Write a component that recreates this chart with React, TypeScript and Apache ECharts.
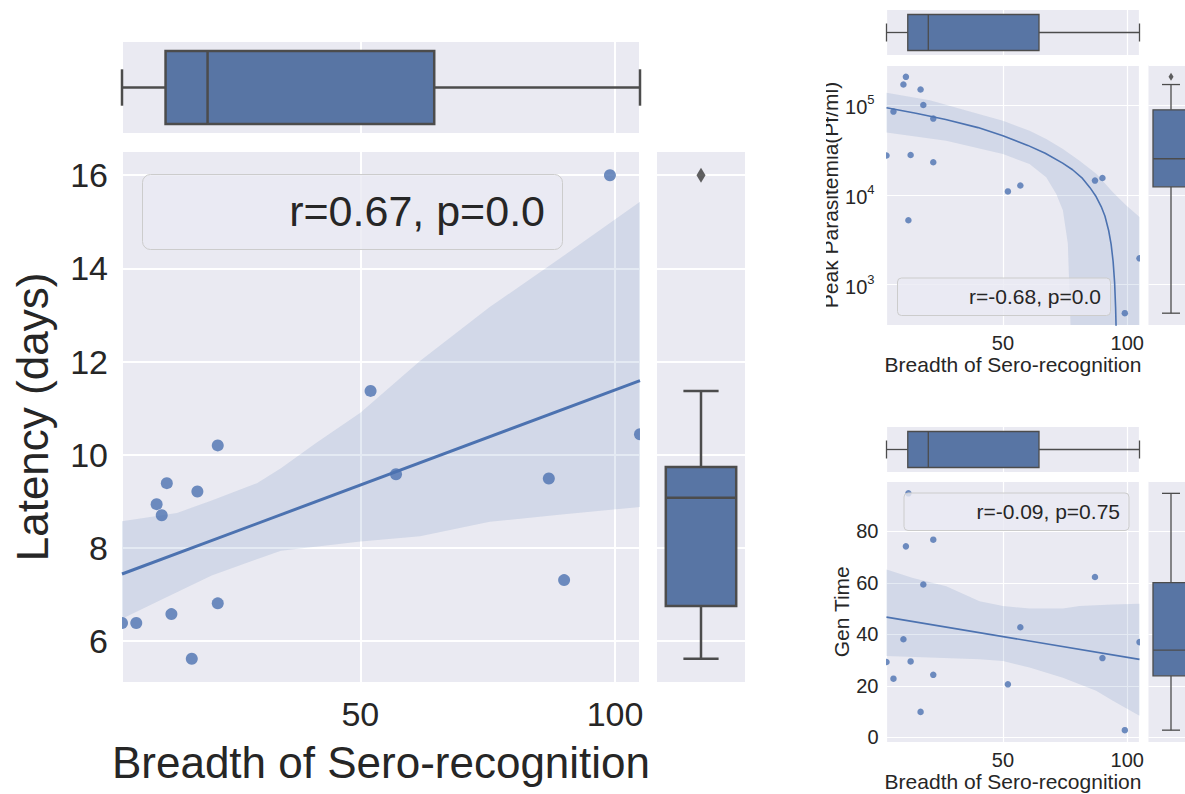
import React, { useEffect, useRef } from "react";
import * as echarts from "echarts";

// ---------- data ----------
const breadth = [3.2, 6.0, 10.0, 11.0, 12.0, 12.9, 16.9, 18.0, 22.0, 22.0, 52.0, 57.0, 87.0, 90.0, 99.0, 104.9];
const latency = [6.39, 6.39, 8.94, 8.7, 9.39, 6.58, 5.62, 9.21, 10.2, 6.81, 11.37, 9.58, 9.49, 7.31, 16.0, 10.44];
const parasitemia = [27400, 84500, 169000, 206000, 5200, 27700, 149000, 100000, 70600, 23000, 10900, 12700, 14400, 15400, 480, 1960];
const genTime = [29.3, 22.8, 38.1, 74.2, 94.8, 29.5, 9.9, 59.4, 76.8, 24.3, 20.6, 42.8, 62.3, 30.8, 2.8, 37.0];

// regression lines and confidence bands
const latencyFit = [[3.2, 7.44], [104.9, 11.59]];
const latencyBandUpper = [[3.2, 8.57], [14, 8.75], [20.8, 9.02], [29.7, 9.39], [34.4, 9.71], [41.3, 10.25], [50, 10.9], [61.7, 12.01], [75.4, 13.17], [89, 14.2], [104.9, 15.43]];
const latencyBandLower = [[3.2, 6.48], [10.6, 6.87], [20.8, 7.41], [34.4, 7.94], [50, 8.14], [61.7, 8.25], [75.4, 8.56], [89, 8.71], [104.9, 8.88]];

const parasitemiaFit = [[3.2, 93000], [15, 81000], [27, 69000], [40, 56000], [50, 45500], [60, 35500], [67, 29000], [74, 22500], [78, 19000], [82, 15200], [85, 12000], [87.5, 9500], [89.5, 7400], [91, 5800], [92.5, 4000], [93.5, 2800], [94.3, 1800], [94.9, 1050], [95.3, 550], [95.6, 250]];
const parasitemiaBandUpper = [[3.2, 137000], [20.6, 112700], [40.6, 78900], [50, 66600], [60.7, 51500], [67.4, 41700], [74.1, 32300], [80.8, 24000], [87.5, 17100], [94.2, 10700], [99.6, 7620], [104.9, 5660]];
// last two points lie below the visible axis range
const parasitemiaBandLower = [[3.2, 49400], [27.2, 39900], [50, 28400], [60.7, 22000], [67.4, 15700], [71.4, 10300], [74.1, 6710], [76.1, 2870], [77.2, 340], [77.6, 100], [104.9, 100]];

const genTimeFit = [[3.2, 46.7], [104.9, 30.3]];
const genTimeBandUpper = [[3.2, 65.2], [13.8, 61.9], [27.2, 58.7], [40.6, 52.9], [50, 51.0], [60.7, 50.1], [74.1, 50.1], [80.8, 51.0], [94.2, 51.6], [104.9, 51.9]];
const genTimeBandLower = [[3.2, 31.6], [20.6, 31.0], [40.6, 30.3], [50, 29.7], [60.7, 27.1], [74.1, 23.2], [87.5, 18.1], [94.2, 14.2], [104.9, 8.4]];

const legendTexts = ["r=0.67, p=0.0", "r=-0.68, p=0.0", "r=-0.09, p=0.75"];
const xTitle = "Breadth of Sero-recognition";
const yTitles = ["Latency (days)", "Peak Parasitemia(Pf/ml)", "Gen Time"];

// ---------- styles ----------
const FONT = "'Liberation Sans', Arial, Helvetica, sans-serif";
const TEXT = "#262626";
const BG = "#eaeaf2";
const LINE = "#4c72b0";
const POINT = "rgba(76,114,176,0.8)";
const BAND = "rgba(76,114,176,0.15)";
const BOX = "#5875a4";
const GREY = "#4c4c4c";

// ---------- helpers ----------
function quantile(s: number[], q: number) {
  const pos = (s.length - 1) * q;
  const lo = Math.floor(pos);
  const hi = Math.ceil(pos);
  return s[lo] + (s[hi] - s[lo]) * (pos - lo);
}
function boxStats(values: number[]) {
  const s = [...values].sort((a, b) => a - b);
  const q1 = quantile(s, 0.25);
  const med = quantile(s, 0.5);
  const q3 = quantile(s, 0.75);
  const iqr = q3 - q1;
  const inside = s.filter((v) => v >= q1 - 1.5 * iqr && v <= q3 + 1.5 * iqr);
  const outliers = s.filter((v) => v < q1 - 1.5 * iqr || v > q3 + 1.5 * iqr);
  return { stats: [inside[0], q1, med, q3, inside[inside.length - 1]], outliers };
}
function padRange(arr: number[]) {
  const lo = Math.min(...arr);
  const hi = Math.max(...arr);
  const m = (hi - lo) * 0.05;
  return [lo - m, hi + m];
}
function logPadRange(arr: number[]) {
  const lo = Math.log10(Math.min(...arr));
  const hi = Math.log10(Math.max(...arr));
  const m = (hi - lo) * 0.05;
  return [Math.pow(10, lo - m), Math.pow(10, hi + m)];
}

function bandRender(upper: number[][], lower: number[][]) {
  return (params: any, api: any) => {
    const cs = params.coordSys;
    const clampY = (p: number[]) => [p[0], Math.max(cs.y - 2, Math.min(cs.y + cs.height + 2, p[1]))];
    const pts = [
      ...upper.map((p) => clampY(api.coord(p))),
      ...[...lower].reverse().map((p) => clampY(api.coord(p))),
    ];
    return { type: "polygon", shape: { points: pts }, style: { fill: BAND }, silent: true };
  };
}

function dotRender(size: number) {
  return (params: any, api: any) => {
    const c = api.coord([api.value(0), api.value(1)]);
    return { type: "circle", shape: { cx: c[0], cy: c[1], r: size / 2 }, style: { fill: POINT } };
  };
}

function boxRender(horizontal: boolean, lw: number) {
  return (params: any, api: any) => {
    const lo = api.value(0), q1 = api.value(1), med = api.value(2), q3 = api.value(3), hi = api.value(4);
    const P = (v: number, c: number) => (horizontal ? api.coord([v, c]) : api.coord([c, v]));
    const a = P(q1, 0.1);
    const b = P(q3, 0.9);
    const seg = (p1: number[], p2: number[]) => ({
      type: "line",
      shape: { x1: p1[0], y1: p1[1], x2: p2[0], y2: p2[1] },
      style: { stroke: GREY, lineWidth: lw, fill: null },
    });
    return {
      type: "group",
      children: [
        seg(P(lo, 0.5), P(q1, 0.5)),
        seg(P(q3, 0.5), P(hi, 0.5)),
        seg(P(lo, 0.3), P(lo, 0.7)),
        seg(P(hi, 0.3), P(hi, 0.7)),
        {
          type: "rect",
          shape: { x: Math.min(a[0], b[0]), y: Math.min(a[1], b[1]), width: Math.abs(b[0] - a[0]), height: Math.abs(b[1] - a[1]) },
          style: { fill: BOX, stroke: GREY, lineWidth: lw },
        },
        seg(P(med, 0.1), P(med, 0.9)),
      ],
    };
  };
}

const noLine = { axisLine: { show: false }, axisTick: { show: false } };

function buildOption() {
  const xRange = [Math.min(...breadth), Math.max(...breadth)];
  const latRange = padRange(latency);
  const parRange = logPadRange(parasitemia);
  const genRange = padRange(genTime);

  const splitMain = { show: true, lineStyle: { color: "#ffffff", width: 2 } };
  const splitSmall = { show: true, lineStyle: { color: "#ffffff", width: 1.2 } };
  const labMain = { fontSize: 34, color: TEXT, fontFamily: FONT, margin: 14, showMinLabel: false, showMaxLabel: false };
  const labSmall = { fontSize: 20, color: TEXT, fontFamily: FONT, margin: 8, showMinLabel: false, showMaxLabel: false };
  const nameMain = { fontSize: 44, color: TEXT, fontFamily: FONT };
  const nameSmall = { fontSize: 21, color: TEXT, fontFamily: FONT };

  const gridBase = { show: true, backgroundColor: BG, borderWidth: 0, containLabel: false, outerBoundsMode: "none" };
  const grid = [
    { left: 122, top: 151, width: 518, height: 532 },
    { left: 122, top: 42, width: 518, height: 91 },
    { left: 657, top: 151, width: 88, height: 532 },
    { left: 886.5, top: 65, width: 253, height: 260 },
    { left: 886.5, top: 10, width: 253, height: 45 },
    { left: 1148.5, top: 65, width: 45, height: 260 },
    { left: 886.5, top: 481.5, width: 253, height: 260.5 },
    { left: 886.5, top: 427, width: 253, height: 45 },
    { left: 1148.5, top: 481.5, width: 45, height: 260.5 },
  ].map((g) => ({ ...gridBase, ...g }));

  const unitAxis = (gridIndex: number) => ({ type: "value", gridIndex, min: 0, max: 1, show: false, splitLine: { show: false } });
  const breadthAxis = (gridIndex: number, split: any, label: any, name?: string, nameStyle?: any, gap?: number) => ({
    type: "value", gridIndex, min: xRange[0], max: xRange[1], splitNumber: 2, ...noLine, splitLine: split,
    axisLabel: label ? label : { show: false },
    name: name || "", nameLocation: "middle", nameGap: gap || 0, nameTextStyle: nameStyle,
  });

  const logFormatter = (v: number) => {
    const l = Math.log10(v);
    const e = Math.round(l);
    if (Math.abs(l - e) > 1e-6) return "";
    return `{b|10}{s|${e}}`;
  };

  const xAxis = [
    breadthAxis(0, splitMain, labMain, xTitle, nameMain, 57),
    breadthAxis(1, splitMain, null),
    unitAxis(2),
    breadthAxis(3, splitSmall, labSmall, xTitle, nameSmall, 28),
    breadthAxis(4, splitSmall, null),
    unitAxis(5),
    breadthAxis(6, splitSmall, labSmall, xTitle, nameSmall, 28),
    breadthAxis(7, splitSmall, null),
    unitAxis(8),
  ];
  const yAxis = [
    { type: "value", gridIndex: 0, min: latRange[0], max: latRange[1], ...noLine, splitLine: splitMain, axisLabel: labMain,
      name: yTitles[0], nameLocation: "middle", nameGap: 68, nameTextStyle: nameMain },
    unitAxis(1),
    { type: "value", gridIndex: 2, min: latRange[0], max: latRange[1], ...noLine, splitLine: splitMain, axisLabel: { show: false } },
    { type: "log", logBase: 10, gridIndex: 3, min: parRange[0], max: parRange[1], ...noLine, splitLine: splitSmall,
      axisLabel: {
        ...labSmall, margin: 12, formatter: logFormatter,
        rich: {
          b: { fontSize: 20, color: TEXT, fontFamily: FONT, lineHeight: 24, verticalAlign: "bottom" },
          s: { fontSize: 13, color: TEXT, fontFamily: FONT, lineHeight: 13, verticalAlign: "top" },
        },
      },
      name: yTitles[1], nameLocation: "middle", nameGap: 46, nameTextStyle: nameSmall },
    unitAxis(4),
    { type: "log", logBase: 10, gridIndex: 5, min: parRange[0], max: parRange[1], ...noLine, splitLine: splitSmall, axisLabel: { show: false } },
    { type: "value", gridIndex: 6, min: genRange[0], max: genRange[1], ...noLine, splitLine: splitSmall, axisLabel: labSmall,
      name: yTitles[2], nameLocation: "middle", nameGap: 35, nameTextStyle: nameSmall },
    unitAxis(7),
    { type: "value", gridIndex: 8, min: genRange[0], max: genRange[1], ...noLine, splitLine: splitSmall, axisLabel: { show: false } },
  ];

  const panels = [
    { ys: latency, fit: latencyFit, up: latencyBandUpper, low: latencyBandLower, base: 0, dot: 12, lw: 3, boxLw: 2.5, diamond: [9, 15] },
    { ys: parasitemia, fit: parasitemiaFit, up: parasitemiaBandUpper, low: parasitemiaBandLower, base: 3, dot: 6.5, lw: 1.6, boxLw: 1.3, diamond: [5, 8] },
    { ys: genTime, fit: genTimeFit, up: genTimeBandUpper, low: genTimeBandLower, base: 6, dot: 6.5, lw: 1.6, boxLw: 1.3, diamond: [5, 8] },
  ];

  const series: any[] = [];
  panels.forEach((p) => {
    const i = p.base;
    series.push({
      type: "custom", xAxisIndex: i, yAxisIndex: i, clip: true, silent: true, z: 1,
      renderItem: bandRender(p.up, p.low), data: [p.fit[0]],
    });
    series.push({
      type: "custom", xAxisIndex: i, yAxisIndex: i, clip: true, silent: true, z: 2,
      renderItem: dotRender(p.dot), data: breadth.map((x, k) => [x, p.ys[k]]),
    });
    series.push({
      type: "line", xAxisIndex: i, yAxisIndex: i, data: p.fit, showSymbol: false, symbol: "none", silent: true, z: 3,
      lineStyle: { color: LINE, width: p.lw }, clip: true,
    });
    const xb = boxStats(breadth);
    series.push({
      type: "custom", xAxisIndex: i + 1, yAxisIndex: i + 1, silent: true, z: 2,
      renderItem: boxRender(true, p.boxLw), data: [xb.stats],
    });
    const yb = boxStats(p.ys);
    series.push({
      type: "custom", xAxisIndex: i + 2, yAxisIndex: i + 2, silent: true, z: 2,
      renderItem: boxRender(false, p.boxLw), data: [yb.stats],
    });
    if (yb.outliers.length) {
      series.push({
        type: "scatter", xAxisIndex: i + 2, yAxisIndex: i + 2, silent: true, z: 3,
        symbol: "diamond", symbolSize: p.diamond, itemStyle: { color: "#3a3a3a" },
        data: yb.outliers.map((v) => [0.5, v]),
      });
    }
  });

  const legendBoxes = [
    { x: 142, y: 174, w: 420, h: 75, tx: 545, ty: 211, fs: 43, r: 8 },
    { x: 897, y: 277.5, w: 213, h: 37.5, tx: 1101, ty: 296.5, fs: 21, r: 4 },
    { x: 903.5, y: 492.5, w: 225, h: 37.5, tx: 1120, ty: 511.5, fs: 21, r: 4 },
  ];
  const graphic: any[] = [];
  legendBoxes.forEach((b, k) => {
    graphic.push({
      type: "rect", left: b.x, top: b.y, z: 50, silent: true,
      shape: { width: b.w, height: b.h, r: b.r },
      style: { fill: "rgba(234,234,242,0.8)", stroke: "#cccccc", lineWidth: 1 },
    });
    graphic.push({
      type: "text", x: b.tx, y: b.ty, z: 51, silent: true,
      style: { text: legendTexts[k], fill: TEXT, font: `${b.fs}px ${FONT}`, align: "right", verticalAlign: "middle", textAlign: "right", textVerticalAlign: "middle" },
    });
  });
  // the reference figure is cut at the left edge of the small panels' y title
  graphic.push({ type: "rect", left: 760, top: 0, z: 100, silent: true, shape: { width: 66, height: 400 }, style: { fill: "#ffffff" } });

  return { animation: false, backgroundColor: "#ffffff", grid, xAxis, yAxis, series, graphic };
}

export default function App() {
  const ref = useRef<HTMLDivElement>(null);
  useEffect(() => {
    if (!ref.current) return;
    const chart = echarts.init(ref.current, null, { renderer: "svg" });
    chart.setOption(buildOption() as any);
    return () => chart.dispose();
  }, []);
  return (
    <div
      ref={ref}
      style={{ position: "absolute", left: 0, top: 0, width: 1185, height: 794, background: "#ffffff" }}
    />
  );
}
